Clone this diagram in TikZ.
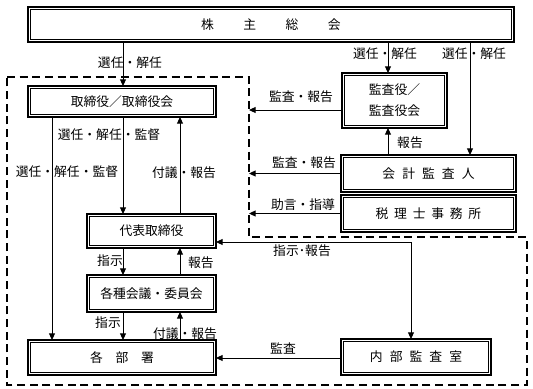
\documentclass[tikz,border=0pt]{standalone}
\usepackage{fontspec}
\setmainfont{Noto Sans CJK JP}
\usetikzlibrary{arrows.meta,calc}
\begin{document}
\begin{tikzpicture}[x=0.75pt,y=-0.75pt,
  font=\fontsize{9.6}{11}\selectfont,
  box/.style={draw, line width=1pt, inner sep=0pt, outer sep=0pt, fill=white},
  sz/.style 2 args={minimum width=#1*0.75pt, minimum height=#2*0.75pt},
  arr/.style={line width=0.75pt, -{Triangle[length=5pt,width=4.5pt]}},
  darr/.style={line width=0.75pt, {Triangle[length=5pt,width=4.5pt]}-{Triangle[length=5pt,width=4.5pt]}},
  lab/.style={inner sep=0pt},
  dashbox/.style={line width=1.2pt, dash pattern=on 6pt off 3.5pt}]
\useasboundingbox (0,0) rectangle (533,389);

% dashed region
\coordinate (d1) at (7,77);
\coordinate (d2) at (249,77);
\coordinate (d3) at (249,237);
\coordinate (d4) at (527,237);
\coordinate (d5) at (527,385);
\coordinate (d6) at (7,385);
\draw[dashbox] (d1) -- (d2) -- (d3) -- (d4) -- (d5) -- (d6) -- cycle;

% boxes
\node[box, sz={486}{35}] (kabu) at (271,24.5) {株\hspace{2.3em}主\hspace{2.3em}総\hspace{2.3em}会};
\node[box, sz={188}{31}] (tori) at (122,101.5) {取締役／取締役会};
\node[box, sz={105}{55}, align=center, font=\fontsize{9.6}{15.75}\selectfont] (kansa) at (394.5,100.5) {監査役／\\監査役会};
\node[box, sz={175}{37}] (kaikei) at (428.5,173.5) {会\hspace{0.55em}計\hspace{0.55em}監\hspace{0.55em}査\hspace{0.55em}人};
\node[box, sz={175}{37}] (zeiri) at (428.5,213.5) {税\hspace{0.45em}理\hspace{0.45em}士\hspace{0.45em}事\hspace{0.45em}務\hspace{0.45em}所};
\node[box, sz={129}{34}] (daihyo) at (151.5,231) {代表取締役};
\node[box, sz={129}{37}] (kaigi) at (151.5,293.5) {各種会議・委員会};
\node[box, sz={188}{35}] (bu) at (122,357.5) {各\hspace{1em}部\hspace{1em}署};
\node[box, sz={150}{36}] (naibu) at (416,357) {内\hspace{0.55em}部\hspace{0.55em}監\hspace{0.55em}査\hspace{0.55em}室};

\foreach \n in {kabu,tori,kansa,kaikei,zeiri,daihyo,kaigi,bu,naibu}
  \draw[line width=0.5pt] ($(\n.south west)+(2.8,-2.8)$) rectangle ($(\n.north east)+(-2.8,2.8)$);

% connectors
\draw[arr] (123,0 |- kabu.south) -- (123,0 |- tori.north);
\draw[arr] (388,0 |- kabu.south) -- (388,0 |- kansa.north);
\draw[arr] (470,0 |- kabu.south) -- (470,0 |- kaikei.north);
\draw[arr] (kansa.west |- 0,110) -- (d2 |- 0,110);
\draw[arr] (388,0 |- kaikei.north) -- (388,0 |- kansa.south);
\draw[arr] (kaikei.west) -- (d2 |- kaikei.west);
\draw[arr] (zeiri.west) -- (d2 |- zeiri.west);
\draw[arr] (52,0 |- tori.south) -- (52,0 |- bu.north);
\draw[arr] (123,0 |- tori.south) -- (123,0 |- daihyo.north);
\draw[arr] (180,0 |- daihyo.north) -- (180,0 |- tori.south);
\draw[arr] (123,0 |- daihyo.south) -- (123,0 |- kaigi.north);
\draw[arr] (180,0 |- kaigi.north) -- (180,0 |- daihyo.south);
\draw[arr] (123,0 |- kaigi.south) -- (123,0 |- bu.north);
\draw[arr] (180,0 |- bu.north) -- (180,0 |- kaigi.south);
\draw[darr] (daihyo.east |- 0,242) -| (411,0 |- naibu.north);
\draw[arr] (naibu.west |- 0,358) -- (bu.east |- 0,358);

% labels
\node[lab] (l1) at (130,63) {選任・解任};
\node[lab] (l2) at (385,54) {選任・解任};
\node[lab] (l3) at (474,54) {選任・解任};
\node[lab] (l4) at (301,97) {監査・報告};
\node[lab] (l5) at (410,143) {報告};
\node[lab] (l6) at (304,163) {監査・報告};
\node[lab] (l7) at (303,205) {助言・指導};
\node[lab] (l8) at (109,135) {選任・解任・監督};
\node[lab] (l9) at (67,172) {選任・解任・監督};
\node[lab] (l10) at (184,173) {付議・報告};
\node[lab] (l11) at (302,251) {指示･報告};
\node[lab] (l12) at (110,261) {指示};
\node[lab] (l13) at (201,263) {報告};
\node[lab] (l14) at (108,323) {指示};
\node[lab] (l15) at (185,334) {付議・報告};
\node[lab] (l16) at (283,349) {監査};
\end{tikzpicture}
\end{document}
